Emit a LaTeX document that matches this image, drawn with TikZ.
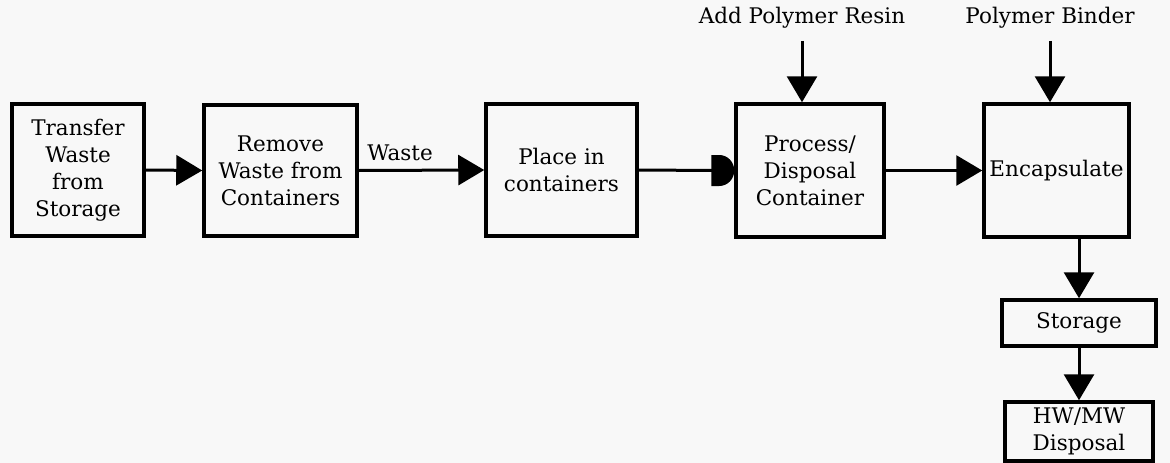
\documentclass[tikz,border=0pt]{standalone}
\usepackage{fontspec}
\setmainfont{DejaVu Serif}
\usetikzlibrary{arrows.meta,calc}
\definecolor{paper}{RGB}{248,248,248}
\begin{document}
\begin{tikzpicture}[x=1pt,y=-1pt,
  stepbox/.style={draw, line width=3.5pt, align=center, inner sep=0pt,
    font=\fontsize{21.5}{27}\selectfont},
  lbl/.style={inner sep=0pt, font=\fontsize{21.5}{27}\selectfont},
  flow/.style={line width=3pt, -{Triangle[length=26pt,width=30pt]}},
  plain/.style={line width=3pt}]
  % page
  \fill[paper] (0,0) rectangle (1170,463);
  \useasboundingbox (0,0) rectangle (1170,463);

  % process boxes
  \node[stepbox, minimum width=132pt, minimum height=132pt] (b1) at (78,170) {Transfer\\Waste\\from\\Storage};
  \node[stepbox, minimum width=153pt, minimum height=131pt] (b2) at (280.5,170.5) {Remove\\Waste from\\Containers};
  \node[stepbox, minimum width=151pt, minimum height=132pt] (b3) at (561.5,170) {Place in\\containers};
  \node[stepbox, minimum width=148pt, minimum height=133pt] (b4) at (810,170.5) {Process/\\Disposal\\Container};
  \node[stepbox, minimum width=145pt, minimum height=133pt] (b5) at (1056.5,170.5) {Encapsulate};
  \node[stepbox, minimum width=154pt, minimum height=46pt] (st) at (1079,323) {Storage};
  \node[stepbox, minimum width=148pt, minimum height=59pt] (hw) at (1079,431.5) {HW/MW\\Disposal};

  % labels
  \node[lbl] (lw) at (400,153) {Waste};
  \node[lbl] (resin) at (802,18) {Add Polymer Resin};
  \node[lbl] (binder) at (1050,18) {Polymer Binder};

  % main flow
  \draw[flow] (b1.east) -- (b2.west);
  \draw[flow] (b2.east) -- (b3.west);
  \draw[plain] (b3.east) -- ([xshift=-20pt]b4.west);
  % rounded head on the feed into the disposal container
  \fill ($(b4.west)+(-23,-15.5)$) -- ++(8,0)
    arc[start angle=90, end angle=-90, x radius=15pt, y radius=15.5pt]
    -- ++(-8,0) -- cycle;
  \draw[flow] (b4.east) -- (b5.west);

  % additives
  \draw[flow] ([yshift=-12pt]resin.south) -- (resin.south |- b4.north);
  \draw[flow] ([yshift=-12pt]binder.south) -- (binder.south |- b5.north);

  % downstream
  \draw[flow] (st.north |- b5.south) -- (st.north);
  \draw[flow] (st.south) -- (hw.north);
\end{tikzpicture}
\end{document}
